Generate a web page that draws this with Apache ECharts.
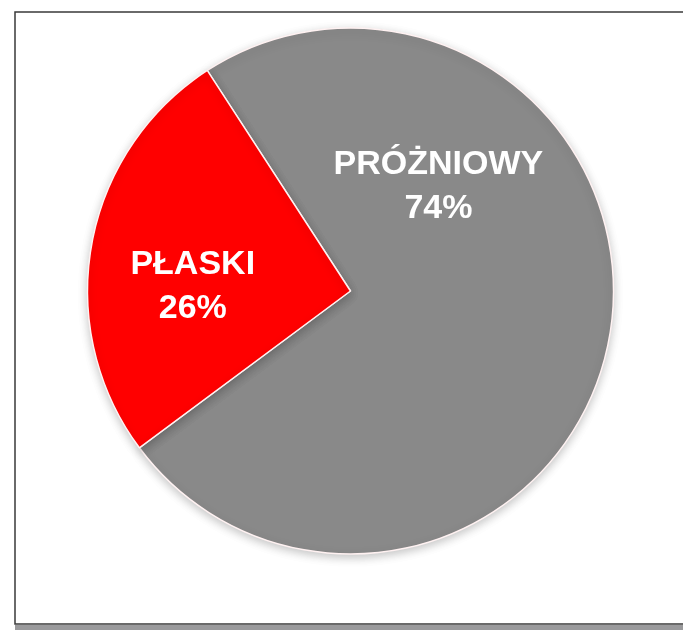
<!DOCTYPE html>
<html>
<head>
<meta charset="utf-8">
<style>
  html, body { margin: 0; padding: 0; background: #ffffff; }
  #chart { width: 683px; height: 630px; }
</style>
<script src="https://cdn.jsdelivr.net/npm/echarts@6/dist/echarts.min.js"></script>
</head>
<body>
<div id="chart"></div>
<script>
// Collector types and their shares (%)
const categories = ['PRÓŻNIOWY', 'PŁASKI'];
const shares = [74, 26];
const sliceColors = ['#898989', '#ff0000'];
// Label anchors in polar form around the pie centre: [angle in degrees (counter-clockwise from 3 o'clock), radius fraction]
const labelAnchors = [[50, 0.52], [178.5, 0.60]];

const chart = echarts.init(document.getElementById('chart'), null, { renderer: 'canvas' });

const CX = 350.5, CY = 291, R = 263;

chart.setOption({
  animation: false,
  backgroundColor: '#ffffff',
  graphic: [
    {
      type: 'rect',
      shape: { x: 15, y: 12, width: 700, height: 612 },
      style: { fill: 'none', stroke: '#3a3a3a', lineWidth: 1.5 },
      silent: true,
      z: -1
    },
    {
      type: 'rect',
      shape: { x: 15, y: 625, width: 700, height: 6 },
      style: { fill: '#9a9a9c' },
      silent: true,
      z: -1
    }
  ],
  series: [{
    type: 'pie',
    center: [CX, CY],
    radius: [0, R],
    startAngle: 123,
    clockwise: true,
    silent: true,
    data: categories.map((name, i) => ({
      name,
      value: shares[i],
      itemStyle: { color: sliceColors[i] }
    })),
    itemStyle: {
      borderColor: '#fff2f2',
      borderWidth: 1.5,
      shadowBlur: 10,
      shadowColor: 'rgba(0,0,0,0.22)',
      shadowOffsetY: 3
    },
    label: {
      show: true,
      position: 'inside',
      formatter: p => p.name + '\n' + p.value + '%',
      color: '#ffffff',
      fontFamily: '"Liberation Sans", Arial, sans-serif',
      fontWeight: 'bold',
      fontSize: 34,
      lineHeight: 44,
      align: 'center',
      verticalAlign: 'middle'
    },
    labelLine: { show: false },
    labelLayout: params => {
      const a = labelAnchors[params.dataIndex];
      const rad = a[0] * Math.PI / 180;
      return {
        x: CX + Math.cos(rad) * a[1] * R,
        y: CY - Math.sin(rad) * a[1] * R,
        align: 'center',
        verticalAlign: 'middle'
      };
    }
  }]
});
</script>
</body>
</html>
